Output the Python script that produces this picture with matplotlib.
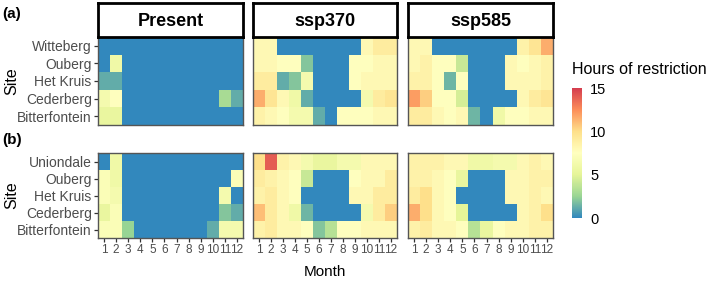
import numpy as np
import matplotlib
matplotlib.use('Agg')
import matplotlib.pyplot as plt
from matplotlib.colors import LinearSegmentedColormap

plt.rcParams['font.family'] = ['Liberation Sans', 'DejaVu Sans']

months = [str(m) for m in range(1, 13)]
sites_a = ['Witteberg', 'Ouberg', 'Het Kruis', 'Cederberg', 'Bitterfontein']
sites_b = ['Uniondale', 'Ouberg', 'Het Kruis', 'Cederberg', 'Bitterfontein']
scenarios = ['Present', 'ssp370', 'ssp585']

# rows listed top to bottom, 12 months each
present_a = [
    [0, 0, 0, 0, 0, 0, 0, 0, 0, 0, 0, 0],
    [0, 6, 0, 0, 0, 0, 0, 0, 0, 0, 0, 0],
    [1.2, 1.2, 0, 0, 0, 0, 0, 0, 0, 0, 0, 0],
    [6.5, 7.5, 0, 0, 0, 0, 0, 0, 0, 0, 3, 1.2],
    [5.5, 5.5, 0, 0, 0, 0, 0, 0, 0, 0, 0, 0],
]
ssp370_a = [
    [8, 8, 0, 0, 0, 0, 0, 0, 0, 8, 9, 9],
    [8, 8, 7.5, 7.5, 2, 0, 0, 0, 7.5, 7.5, 8, 8],
    [9, 9, 1.2, 2, 6.5, 0, 0, 0, 7.5, 8, 8, 8],
    [11.5, 9.5, 8, 6, 1.2, 0, 0, 0, 0, 6.5, 9, 9.5],
    [8.5, 8, 7.5, 6.5, 6.5, 1.2, 0, 7.5, 7.5, 7.5, 8, 8],
]
ssp585_a = [
    [8, 8, 0, 0, 0, 0, 0, 0, 0, 8.5, 9.5, 11.5],
    [8, 8.5, 7.5, 7.5, 4, 0, 0, 0, 8, 7.5, 8, 8.5],
    [8.5, 8.5, 7.5, 1.5, 7.5, 0, 0, 0, 8, 8, 8, 8.5],
    [12, 10.5, 7.5, 7.5, 4.5, 0, 0, 0, 0, 8, 9, 9.5],
    [9, 9, 8, 7.5, 8, 1.5, 0, 6, 7.5, 7.5, 8, 8],
]
present_b = [
    [0, 6, 0, 0, 0, 0, 0, 0, 0, 0, 0, 0],
    [7, 6, 0, 0, 0, 0, 0, 0, 0, 0, 0, 7],
    [7, 6.5, 0, 0, 0, 0, 0, 0, 0, 0, 6.5, 0],
    [5.5, 7, 0, 0, 0, 0, 0, 0, 0, 0, 2, 1.2],
    [7, 7, 2.5, 0, 0, 0, 0, 0, 0, 1.2, 6.5, 6.5],
]
ssp370_b = [
    [10, 14, 8.5, 8, 6.5, 5.5, 5.5, 6.5, 6.5, 8, 8, 8],
    [9, 8.5, 8, 7.5, 4, 0, 0, 0, 7.5, 8, 8, 9],
    [8.5, 9, 8, 7.5, 0, 0, 0, 0, 8, 8, 9, 9],
    [11, 9, 8, 6, 1.5, 0, 0, 0, 0, 6.5, 9, 10.5],
    [8.5, 9, 8, 8, 7.5, 2, 3.5, 7.5, 7.5, 8, 8, 8],
]
ssp585_b = [
    [8.5, 8.5, 8.5, 8, 8, 6, 6, 6.5, 6.5, 8, 8.5, 8],
    [8.5, 8.5, 8, 7.5, 5.5, 0, 0, 0, 8, 8, 8.5, 8.5],
    [9, 10, 8, 7.5, 0, 0, 0, 0, 8, 8, 8.5, 8],
    [11.5, 10, 8, 7.5, 5, 0, 0, 0, 0, 8, 8.5, 10],
    [8.5, 9, 8, 8, 7.5, 3.5, 5.5, 7.5, 8, 8, 8.5, 8.5],
]

spectral = ['#3288BD', '#99D594', '#E6F598', '#FFFFBF', '#FEE08B', '#FC8D59', '#D53E4F']
cmap = LinearSegmentedColormap.from_list('spec', spectral)

W, H = 709, 285
fig = plt.figure(figsize=(W / 100, H / 100), dpi=100)


def box(x0, y0, x1, y1):
    return [x0 / W, 1 - y1 / H, (x1 - x0) / W, (y1 - y0) / H]


xcols = [(98, 243), (253, 397), (408, 553)]
rows = [(37, 125, [present_a, ssp370_a, ssp585_a], sites_a),
        (153, 238, [present_b, ssp370_b, ssp585_b], sites_b)]

grey = '#4D4D4D'
im = None
for r, (y0, y1, datas, sites) in enumerate(rows):
    for c, (x0, x1) in enumerate(xcols):
        ax = fig.add_axes(box(x0, y0, x1, y1))
        im = ax.imshow(np.array(datas[c]), cmap=cmap, vmin=0, vmax=15, aspect='auto',
                       extent=(0.5, 12.5, 5.5, 0.5), interpolation='nearest')
        for s in ax.spines.values():
            s.set_color('#555555')
            s.set_linewidth(1.0)
        ax.set_xticks(range(1, 13))
        ax.set_yticks(range(1, 6))
        ax.tick_params(length=3, width=0.9, color='#333333', labelsize=8.5,
                       labelcolor=grey, pad=1.5)
        ax.tick_params(axis='y', labelsize=10)
        if c == 0:
            ax.set_yticklabels(sites)
        else:
            ax.tick_params(axis='y', left=False, labelleft=False)
        if r == 1:
            ax.set_xticklabels(months)
        else:
            ax.tick_params(axis='x', bottom=False, labelbottom=False)
        if r == 0:
            sx = fig.add_axes(box(x0, 3, x1, 37))
            sx.set_xticks([])
            sx.set_yticks([])
            for s in sx.spines.values():
                s.set_color('black')
                s.set_linewidth(2)
            sx.text(0.5, 0.45, scenarios[c], ha='center', va='center',
                    fontsize=13, fontweight='bold', transform=sx.transAxes)

fig.text(2 / W, 1 - 14 / H, '(a)', fontsize=11, fontweight='bold', va='center')
fig.text(2 / W, 1 - 140 / H, '(b)', fontsize=11, fontweight='bold', va='center')
fig.text(12 / W, 1 - 81 / H, 'Site', fontsize=11.5, rotation=90, ha='center', va='center')
fig.text(12 / W, 1 - 195 / H, 'Site', fontsize=11.5, rotation=90, ha='center', va='center')
fig.text(325 / W, 1 - 272 / H, 'Month', fontsize=11, ha='center', va='center')

cax = fig.add_axes(box(572, 88, 582, 218))
cb = fig.colorbar(im, cax=cax, ticks=[0, 5, 10, 15])
cb.outline.set_visible(False)
cax.tick_params(length=0, labelsize=10.5, labelcolor='black', pad=6)
fig.text(572 / W, 1 - 70 / H, 'Hours of restriction', fontsize=11.5, va='center')

fig.savefig('out.png', dpi=100)
